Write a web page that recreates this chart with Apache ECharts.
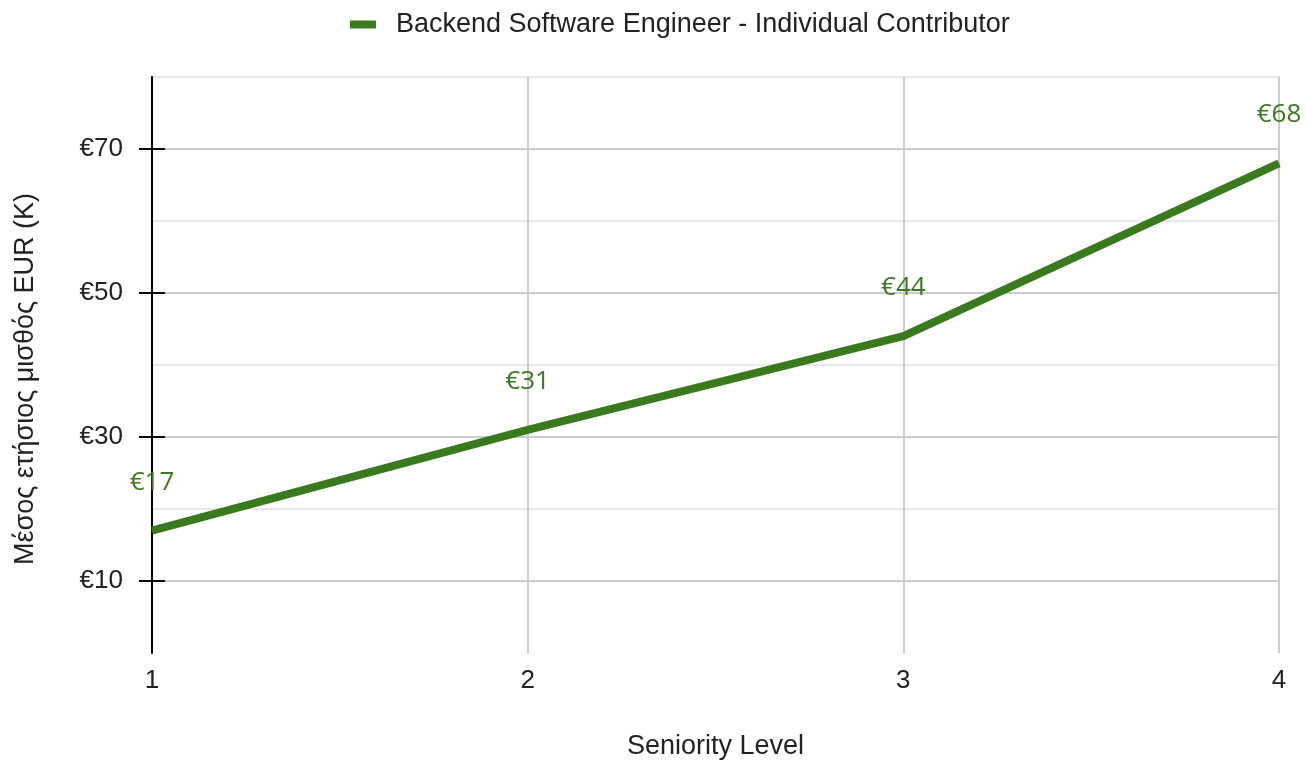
<!DOCTYPE html>
<html>
<head>
<meta charset="utf-8">
<script src="https://cdn.jsdelivr.net/npm/echarts@6/dist/echarts.min.js"></script>
<style>
  html, body { margin: 0; padding: 0; background: #fff; }
  #main { width: 1306px; height: 761px; }
</style>
</head>
<body>
<div id="main"></div>
<script>
// data
const seriesName = 'Backend Software Engineer - Individual Contributor'
const levels = [1, 2, 3, 4]
const salaries = [17, 31, 44, 68]
const yTicks = [10, 30, 50, 70]

const green = '#3a7a1f'
const font = 'Liberation Sans, Arial, sans-serif'

const chart = echarts.init(document.getElementById('main'))

// tick marks cross the y axis line: one axis draws them outside, one inside
const tickAxis = inside => ({
  type: 'value',
  min: 0,
  max: 80,
  position: 'left',
  axisLine: { show: false },
  axisTick: { show: true, inside: inside, customValues: yTicks, length: 13, lineStyle: { color: '#000', width: 2 } },
  axisLabel: inside ? { show: false } : {
    customValues: yTicks,
    fontFamily: font, fontSize: 26, color: '#222', margin: 29,
    formatter: v => '€' + v
  },
  splitLine: { show: false }
})

const option = {
  animation: false,
  legend: {
    top: 6,
    left: 345,
    itemWidth: 26,
    itemHeight: 8,
    textStyle: { fontFamily: font, fontSize: 27, color: '#222', padding: [0, 0, 0, 15] },
    data: [{ name: seriesName, icon: 'rect' }]
  },
  grid: { left: 152, right: 27, top: 77, bottom: 108, outerBoundsMode: 'none' },
  xAxis: {
    type: 'value',
    min: 1,
    max: 4,
    interval: 1,
    name: 'Seniority Level',
    nameLocation: 'middle',
    nameGap: 80,
    nameTextStyle: { fontFamily: font, fontSize: 27, color: '#222' },
    axisLine: { show: false },
    axisTick: { show: false },
    axisLabel: { fontFamily: font, fontSize: 26, color: '#222', margin: 15 },
    splitLine: { lineStyle: { color: '#cccccc', width: 2 }, showMinLine: false }
  },
  yAxis: [
    {
      type: 'value',
      min: 0,
      max: 80,
      interval: 10,
      name: 'Μέσος ετήσιος μισθός EUR (K)',
      nameLocation: 'middle',
      nameGap: 113,
      nameTextStyle: { fontFamily: font, fontSize: 27, color: '#222', padding: [0, 28, 0, 0] },
      axisLine: { show: true, lineStyle: { color: '#000', width: 2 } },
      axisTick: { show: false },
      axisLabel: { show: false },
      splitLine: { showMinLine: false, lineStyle: { color: ['#cccccc', '#e8e8e8'], width: 2 } }
    },
    tickAxis(false),
    tickAxis(true)
  ],
  series: [
    {
      name: seriesName,
      type: 'line',
      data: levels.map((x, i) => [x, salaries[i]]),
      showSymbol: true,
      symbol: 'circle',
      symbolSize: 1,
      lineStyle: { color: green, width: 8 },
      itemStyle: { color: green },
      label: {
        show: true,
        position: 'top',
        distance: 35,
        fontFamily: 'Open Sans, sans-serif',
        fontSize: 26,
        color: green,
        formatter: p => '€' + p.value[1]
      }
    }
  ]
}

chart.setOption(option)
</script>
</body>
</html>
